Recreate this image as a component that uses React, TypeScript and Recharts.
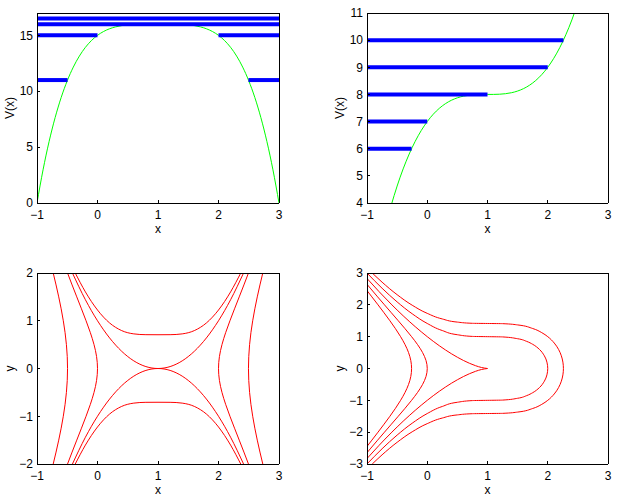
import React from 'react';
import { LineChart, Line, XAxis, YAxis } from 'recharts';

const FONT = "'Liberation Sans', Arial, Helvetica, sans-serif";

// shared x axis
const xTicks = [-1, 0, 1, 2, 3];

// top left: V(x), hill shape
const hillX = [
  -1, -0.9, -0.8, -0.7, -0.6, -0.5, -0.4, -0.3, -0.2, -0.1, 0, 0.1, 0.2, 0.3, 0.4, 0.5, 0.6, 0.7, 0.8, 0.9, 1,
  1.1, 1.2, 1.3, 1.4, 1.5, 1.6, 1.7, 1.8, 1.9, 2, 2.1, 2.2, 2.3, 2.4, 2.5, 2.6, 2.7, 2.8, 2.9, 3,
];
const hillV = [
  0, 2.968, 5.502, 7.648, 9.446, 10.938, 12.158, 13.144, 13.926, 14.536, 15, 15.344, 15.59, 15.76, 15.87, 15.938,
  15.974, 15.992, 15.998, 16, 16, 16, 15.998, 15.992, 15.974, 15.938, 15.87, 15.76, 15.59, 15.344, 15, 14.536,
  13.926, 13.144, 12.158, 10.938, 9.446, 7.648, 5.502, 2.968, 0,
];
const hillTicks = [0, 5, 10, 15];
// energy levels (blue bars): level, start x, end x
const hillLevelE = [11, 11, 15, 15, 16, 16.5];
const hillLevelFrom = [-1, 2.495, -1, 2, -1, -1];
const hillLevelTo = [-0.495, 3, 0, 3, 3, 3];

// top right: V(x), cubic step
const stepX = [
  -0.6, -0.5, -0.4, -0.3, -0.2, -0.1, 0, 0.1, 0.2, 0.3, 0.4, 0.5, 0.6, 0.7, 0.8, 0.9, 1, 1.1, 1.2, 1.3, 1.4, 1.5,
  1.6, 1.7, 1.8, 1.9, 2, 2.1, 2.2, 2.3, 2.4, 2.5,
];
const stepV = [
  3.904, 4.625, 5.256, 5.803, 6.272, 6.669, 7, 7.271, 7.488, 7.657, 7.784, 7.875, 7.936, 7.973, 7.992, 7.999, 8,
  8.001, 8.008, 8.027, 8.064, 8.125, 8.216, 8.343, 8.512, 8.729, 9, 9.331, 9.728, 10.197, 10.744, 11.375,
];
const stepTicks = [4, 5, 6, 7, 8, 9, 10, 11];
const stepLevelE = [6, 7, 8, 9, 10];
const stepLevelFrom = [-1, -1, -1, -1, -1];
const stepLevelTo = [-0.26, 0, 1, 2, 2.26];

// bottom left: phase curves of the hill
const hillPhaseTicks = [-2, -1, 0, 1, 2];
const hillSideY = [-2, -1.75, -1.5, -1.25, -1, -0.75, -0.5, -0.25, 0, 0.25, 0.5, 0.75, 1, 1.25, 1.5, 1.75, 2];
const e11Left = [
  -0.7321, -0.6851, -0.6409, -0.6005, -0.5651, -0.5357, -0.5137, -0.5, -0.4953, -0.5, -0.5137, -0.5357, -0.5651,
  -0.6005, -0.6409, -0.6851, -0.7321,
];
const e11Right = [
  2.7321, 2.6851, 2.6409, 2.6005, 2.5651, 2.5357, 2.5137, 2.5, 2.4953, 2.5, 2.5137, 2.5357, 2.5651, 2.6005, 2.6409,
  2.6851, 2.7321,
];
const e15Left = [
  -0.4953, -0.4197, -0.3427, -0.2652, -0.1892, -0.118, -0.0574, -0.0153, 0, -0.0153, -0.0574, -0.118, -0.1892,
  -0.2652, -0.3427, -0.4197, -0.4953,
];
const e15Right = [
  2.4953, 2.4197, 2.3427, 2.2652, 2.1892, 2.118, 2.0574, 2.0153, 2, 2.0153, 2.0574, 2.118, 2.1892, 2.2652, 2.3427,
  2.4197, 2.4953,
];
const sepX = [-0.4142, -0.2, 0, 0.2, 0.4, 0.6, 0.8, 1, 1.2, 1.4, 1.6, 1.8, 2, 2.2, 2.4142];
const sepUpper = [2, 1.44, 1, 0.64, 0.36, 0.16, 0.04, 0, 0.04, 0.16, 0.36, 0.64, 1, 1.44, 2];
const sepLower = [-2, -1.44, -1, -0.64, -0.36, -0.16, -0.04, 0, -0.04, -0.16, -0.36, -0.64, -1, -1.44, -2];
const e165X = [-0.3678, -0.2, 0, 0.2, 0.4, 0.6, 0.8, 1, 1.2, 1.4, 1.6, 1.8, 2, 2.2, 2.3678];
const e165Upper = [2, 1.6043, 1.2247, 0.9537, 0.7935, 0.725, 0.7082, 0.7071, 0.7082, 0.725, 0.7935, 0.9537, 1.2247, 1.6043, 2];
const e165Lower = [
  -2, -1.6043, -1.2247, -0.9537, -0.7935, -0.725, -0.7082, -0.7071, -0.7082, -0.725, -0.7935, -0.9537, -1.2247,
  -1.6043, -2,
];

// bottom right: phase curves of the step
const stepPhaseTicks = [-3, -2, -1, 0, 1, 2, 3];
const e6Y = [
  2.449, 2.25, 2, 1.75, 1.5, 1.25, 1, 0.75, 0.5, 0.25, 0, -0.25, -0.5, -0.75, -1, -1.25, -1.5, -1.75, -2, -2.25, -2.449,
];
const e6X = [
  -1, -0.9186, -0.8171, -0.7171, -0.6198, -0.5272, -0.4422, -0.3684, -0.3104, -0.2729, -0.2599, -0.2729, -0.3104,
  -0.3684, -0.4422, -0.5272, -0.6198, -0.7171, -0.8171, -0.9186, -1,
];
const e7Y = [
  2.6458, 2.5, 2.25, 2, 1.75, 1.5, 1.25, 1, 0.75, 0.5, 0.25, 0, -0.25, -0.5, -0.75, -1, -1.25, -1.5, -1.75, -2, -2.25,
  -2.5, -2.6458,
];
const e7X = [
  -1, -0.9354, -0.8234, -0.71, -0.5956, -0.4812, -0.3684, -0.2599, -0.1604, -0.0772, -0.0204, 0, -0.0204, -0.0772,
  -0.1604, -0.2599, -0.3684, -0.4812, -0.5956, -0.71, -0.8234, -0.9354, -1,
];
const cuspX = [-1, -0.8, -0.6, -0.4, -0.2, 0, 0.2, 0.4, 0.6, 0.8, 0.9, 1];
const cuspUpper = [2.8284, 2.415, 2.0239, 1.6565, 1.3145, 1, 0.7155, 0.4648, 0.253, 0.0894, 0.0316, 0];
const cuspLower = [-2.8284, -2.415, -2.0239, -1.6565, -1.3145, -1, -0.7155, -0.4648, -0.253, -0.0894, -0.0316, 0];
const e9X = [
  -1, -0.75, -0.5, -0.25, 0, 0.25, 0.5, 0.75, 1, 1.25, 1.5, 1.65, 1.75, 1.8618, 1.9435, 1.9865, 2, 1.9865, 1.9435,
  1.8618, 1.75, 1.65, 1.5, 1.25, 1, 0.75, 0.5, 0.25, 0, -0.25, -0.5, -0.75, -1,
];
const e9Y = [
  3, 2.5217, 2.0917, 1.7185, 1.4142, 1.1924, 1.0607, 1.0078, 1, 0.9922, 0.9354, 0.8517, 0.7603, 0.6, 0.4, 0.2, 0,
  -0.2, -0.4, -0.6, -0.7603, -0.8517, -0.9354, -0.9922, -1, -1.0078, -1.0607, -1.1924, -1.4142, -1.7185, -2.0917,
  -2.5217, -3,
];
const e10X = [
  -0.9129, -0.75, -0.5, -0.25, 0, 0.25, 0.5, 0.75, 1, 1.25, 1.5, 1.75, 1.9, 2, 2.1079, 2.1793, 2.2254, 2.2515, 2.2599,
  2.2515, 2.2254, 2.1793, 2.1079, 2, 1.9, 1.75, 1.5, 1.25, 1, 0.75, 0.5, 0.25, 0, -0.25, -0.5, -0.75, -0.9129,
];
const e10Y = [
  3, 2.7128, 2.3184, 1.9882, 1.7321, 1.5563, 1.4577, 1.4197, 1.4142, 1.4087, 1.3693, 1.2562, 1.1274, 1, 0.8, 0.6, 0.4,
  0.2, 0, -0.2, -0.4, -0.6, -0.8, -1, -1.1274, -1.2562, -1.3693, -1.4087, -1.4142, -1.4197, -1.4577, -1.5563, -1.7321,
  -1.9882, -2.3184, -2.7128, -3,
];

type Pt = { x: number; y: number };
type Curve = 'monotoneX' | 'monotoneY' | 'linear';
type Series = { data: Pt[]; color: string; width: number; curve: Curve };

const zip = (xs: number[], ys: number[]): Pt[] => xs.map((x, i) => ({ x, y: ys[i] }));

const levelBars = (e: number[], from: number[], to: number[]): Series[] =>
  e.map((lv, i) => ({
    data: [
      { x: from[i], y: lv },
      { x: to[i], y: lv },
    ],
    color: '#0000ff',
    width: 4,
    curve: 'linear' as Curve,
  }));

const green = (data: Pt[]): Series => ({ data, color: '#00ff00', width: 1, curve: 'monotoneX' });
const red = (data: Pt[], curve: Curve): Series => ({ data, color: '#ff0000', width: 1, curve });

const fmt = (v: number) => (v < 0 ? `\u2212${Math.abs(v)}` : `${v}`);

const FS = 12;

function XTitle({ viewBox, text }: any) {
  const vb = viewBox || { x: 0, y: 0, width: 0 };
  return (
    <text x={vb.x + vb.width / 2} y={vb.y + 30} textAnchor="middle" fontFamily={FONT} fontSize={FS} fill="#000">
      {text}
    </text>
  );
}

function YTitle({ viewBox, text }: any) {
  const vb = viewBox || { x: 0, y: 0, width: 0, height: 0 };
  const cx = vb.x + vb.width - 27;
  const cy = vb.y + vb.height / 2;
  return (
    <text
      x={cx}
      y={cy}
      dy="0.35em"
      transform={`rotate(-90, ${cx}, ${cy})`}
      textAnchor="middle"
      fontFamily={FONT}
      fontSize={FS}
      fill="#000"
    >
      {text}
    </text>
  );
}

type PanelProps = {
  left: number;
  top: number;
  width: number;
  height: number;
  marginTop: number;
  marginRight: number;
  yAxisWidth: number;
  xAxisHeight: number;
  yDomain: [number, number];
  yTicks: number[];
  xTitle: string;
  yTitle: string;
  series: Series[];
};

const axisLine = { stroke: '#000', strokeWidth: 1, shapeRendering: 'crispEdges' };
const tickLine = { stroke: '#000', strokeWidth: 1, shapeRendering: 'crispEdges' };
const tickStyle = { fill: '#000', fontSize: FS, fontFamily: FONT };

function Panel(p: PanelProps) {
  return (
    <div style={{ position: 'absolute', left: p.left, top: p.top }}>
      <LineChart width={p.width} height={p.height} margin={{ top: p.marginTop, right: p.marginRight, bottom: 0, left: 0 }}>
        <XAxis
          type="number"
          dataKey="x"
          domain={[-1, 3]}
          ticks={xTicks}
          interval={0}
          allowDataOverflow
          height={p.xAxisHeight}
          tickSize={-3}
          tickMargin={10}
          tickFormatter={fmt}
          tick={tickStyle}
          axisLine={axisLine}
          tickLine={tickLine}
          label={<XTitle text={p.xTitle} />}
        />
        <XAxis
          xAxisId="top"
          orientation="top"
          type="number"
          dataKey="x"
          domain={[-1, 3]}
          ticks={xTicks}
          interval={0}
          allowDataOverflow
          height={1}
          tickSize={-3}
          tick={false}
          axisLine={axisLine}
          tickLine={tickLine}
        />
        <YAxis
          type="number"
          domain={p.yDomain}
          ticks={p.yTicks}
          interval={0}
          allowDataOverflow
          width={p.yAxisWidth}
          tickSize={-3}
          tickMargin={7}
          tickFormatter={fmt}
          tick={tickStyle}
          axisLine={axisLine}
          tickLine={tickLine}
          label={<YTitle text={p.yTitle} />}
        />
        <YAxis
          yAxisId="right"
          orientation="right"
          type="number"
          domain={p.yDomain}
          ticks={p.yTicks}
          interval={0}
          allowDataOverflow
          width={1}
          tickSize={-3}
          tick={false}
          axisLine={axisLine}
          tickLine={tickLine}
        />
        {p.series.map((s, i) => (
          <Line
            key={i}
            data={s.data}
            dataKey="y"
            type={s.curve}
            stroke={s.color}
            strokeWidth={s.width}
            dot={false}
            activeDot={false}
            isAnimationActive={false}
          />
        ))}
      </LineChart>
    </div>
  );
}

export default function App() {
  const hillSeries: Series[] = [green(zip(hillX, hillV)), ...levelBars(hillLevelE, hillLevelFrom, hillLevelTo)];
  const stepSeries: Series[] = [green(zip(stepX, stepV)), ...levelBars(stepLevelE, stepLevelFrom, stepLevelTo)];
  const hillPhase: Series[] = [
    red(zip(e11Left, hillSideY), 'monotoneY'),
    red(zip(e11Right, hillSideY), 'monotoneY'),
    red(zip(e15Left, hillSideY), 'monotoneY'),
    red(zip(e15Right, hillSideY), 'monotoneY'),
    red(zip(sepX, sepUpper), 'monotoneX'),
    red(zip(sepX, sepLower), 'monotoneX'),
    red(zip(e165X, e165Upper), 'monotoneX'),
    red(zip(e165X, e165Lower), 'monotoneX'),
  ];
  const stepPhase: Series[] = [
    red(zip(e6X, e6Y), 'monotoneY'),
    red(zip(e7X, e7Y), 'monotoneY'),
    red(zip(cuspX, cuspUpper), 'monotoneX'),
    red(zip(cuspX, cuspLower), 'monotoneX'),
    red(zip(e9X, e9Y), 'monotoneY'),
    red(zip(e10X, e10Y), 'monotoneY'),
  ];

  return (
    <div style={{ position: 'absolute', left: 0, top: 0, width: 618, height: 498, background: '#fff', overflow: 'hidden' }}>
      <Panel
        left={0}
        top={0}
        width={300}
        height={250}
        marginTop={12}
        marginRight={20}
        yAxisWidth={37}
        xAxisHeight={47}
        yDomain={[0, 17]}
        yTicks={hillTicks}
        xTitle="x"
        yTitle="V(x)"
        series={hillSeries}
      />
      <Panel
        left={310}
        top={0}
        width={308}
        height={250}
        marginTop={12}
        marginRight={9}
        yAxisWidth={57}
        xAxisHeight={47}
        yDomain={[4, 11]}
        yTicks={stepTicks}
        xTitle="x"
        yTitle="V(x)"
        series={stepSeries}
      />
      <Panel
        left={0}
        top={250}
        width={300}
        height={248}
        marginTop={22}
        marginRight={20}
        yAxisWidth={37}
        xAxisHeight={34}
        yDomain={[-2, 2]}
        yTicks={hillPhaseTicks}
        xTitle="x"
        yTitle="y"
        series={hillPhase}
      />
      <Panel
        left={310}
        top={250}
        width={308}
        height={248}
        marginTop={22}
        marginRight={9}
        yAxisWidth={57}
        xAxisHeight={34}
        yDomain={[-3, 3]}
        yTicks={stepPhaseTicks}
        xTitle="x"
        yTitle="y"
        series={stepPhase}
      />
    </div>
  );
}
